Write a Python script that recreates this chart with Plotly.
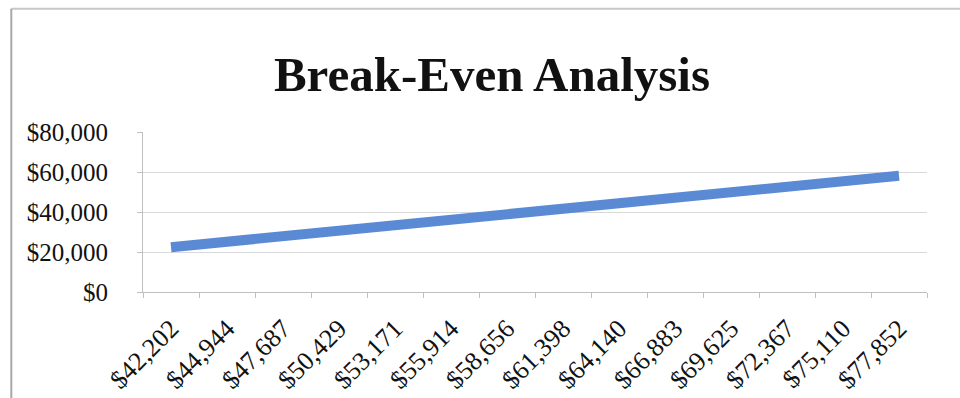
import plotly.graph_objects as go

# Sales levels (category axis) and the matching cost line
sales_labels = ["$42,202", "$44,944", "$47,687", "$50,429", "$53,171", "$55,914", "$58,656",
                "$61,398", "$64,140", "$66,883", "$69,625", "$72,367", "$75,110", "$77,852"]
cost_values = [22400, 25150, 27900, 30650, 33400, 36150, 38900,
               41650, 44400, 47150, 49900, 52650, 55400, 58100]
y_ticks = [0, 20000, 40000, 60000, 80000]
y_tick_text = ["$0", "$20,000", "$40,000", "$60,000", "$80,000"]

serif = "Liberation Serif, Times New Roman, serif"

fig = go.Figure()
fig.add_trace(go.Scatter(
    x=sales_labels,
    y=cost_values,
    mode="lines",
    line=dict(color="#5B8AD5", width=10),
    hoverinfo="x+y",
    showlegend=False,
))

fig.update_layout(
    width=960,
    height=398,
    paper_bgcolor="white",
    plot_bgcolor="white",
    margin=dict(l=143, r=33, t=132, b=106),
    title=dict(
        text="<b>Break-Even Analysis</b>",
        font=dict(family=serif, size=49, color="#111111"),
        x=0.5125, xanchor="center", xref="container",
        y=0.815, yanchor="middle", yref="container",
    ),
    xaxis=dict(
        type="category",
        range=[-0.5, len(sales_labels) - 0.5],
        automargin=False,
        tickson="boundaries",
        ticks="outside",
        ticklen=5,
        tickcolor="#bfbfbf",
        showgrid=False,
        showline=True,
        linecolor="#bfbfbf",
        linewidth=1,
        tickangle=-45,
        tickfont=dict(family=serif, size=26, color="#111111"),
        ticklabelstandoff=10,
    ),
    yaxis=dict(
        range=[0, 80000],
        automargin=False,
        tickvals=y_ticks,
        ticktext=y_tick_text,
        ticks="outside",
        ticklen=5,
        tickcolor="#bfbfbf",
        showgrid=True,
        gridcolor="#d9d9d9",
        gridwidth=1,
        showline=True,
        linecolor="#bfbfbf",
        zeroline=False,
        tickfont=dict(family=serif, size=25, color="#111111"),
        ticklabelstandoff=24,
    ),
)

# Outer chart frame (top and left edges)
fig.add_shape(type="line", xref="paper", yref="paper",
              x0=-0.168, x1=1.05, y0=1.77, y1=1.77,
              line=dict(color="#c8c8c8", width=2))
fig.add_shape(type="line", xref="paper", yref="paper",
              x0=-0.168, x1=-0.168, y0=1.77, y1=-0.8,
              line=dict(color="#a8a8a8", width=2))

fig.write_html("out.html")
